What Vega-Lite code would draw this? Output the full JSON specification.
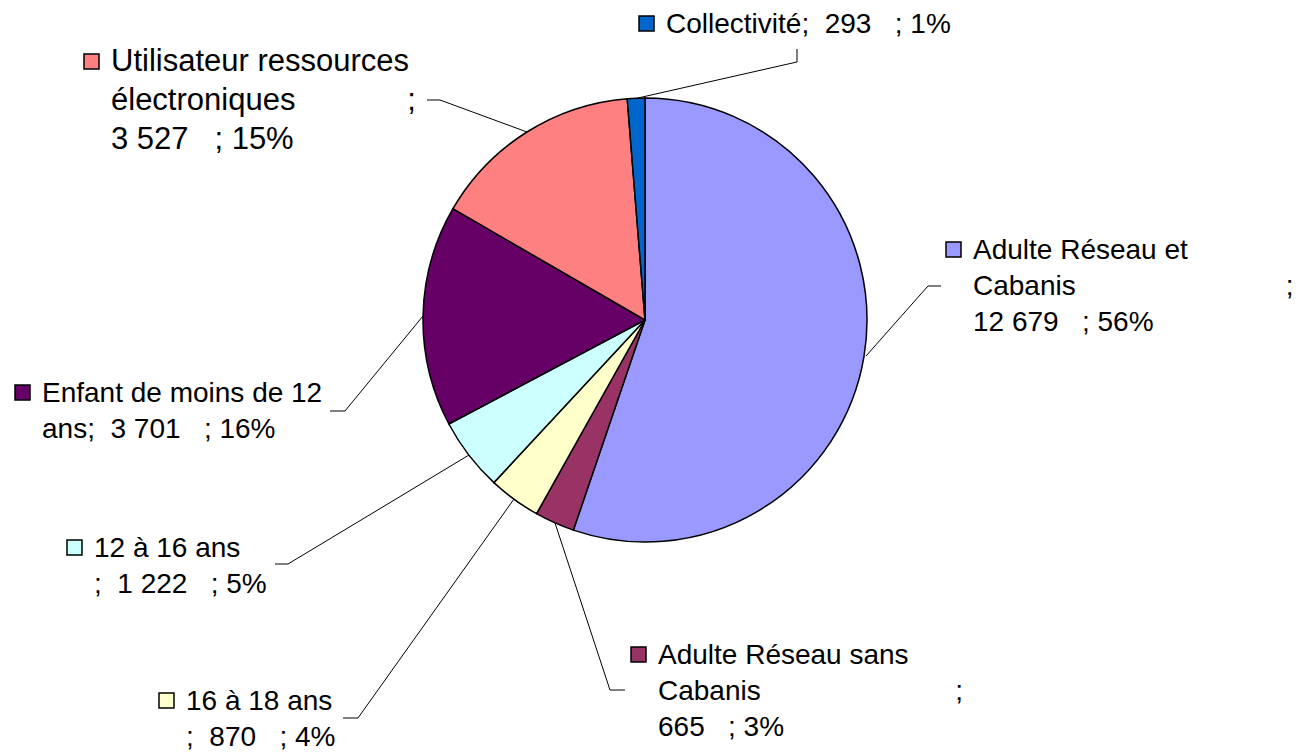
{
  "$schema": "https://vega.github.io/schema/vega-lite/v6.json",
  "width": 1290,
  "height": 640,
  "padding": 0,
  "background": "white",
  "config": {"view": {"stroke": null}},
  "datasets": {
    "slices": [
      {"cat": "Adulte Réseau et Cabanis", "value": 12679, "ord": 1},
      {"cat": "Adulte Réseau sans Cabanis", "value": 665, "ord": 2},
      {"cat": "16 à 18 ans", "value": 870, "ord": 3},
      {"cat": "12 à 16 ans", "value": 1222, "ord": 4},
      {"cat": "Enfant de moins de 12 ans", "value": 3701, "ord": 5},
      {"cat": "Utilisateur ressources électroniques", "value": 3527, "ord": 6},
      {"cat": "Collectivité", "value": 293, "ord": 7}
    ],
    "labels": [
      {"cat": "Collectivité", "u": 0.0946, "v": 1.2928, "label": "Collectivité;\u00a0\u00a0293\u00a0\u00a0\u00a0;\u00a01%"},
      {"cat": "Utilisateur ressources électroniques", "u": -2.4054, "v": 1.1216, "label": "Utilisateur ressources\nélectroniques\u00a0\u00a0\u00a0\u00a0\u00a0\u00a0\u00a0\u00a0\u00a0\u00a0\u00a0\u00a0\u00a0;\n3\u00a0527\u00a0\u00a0\u00a0;\u00a015%"},
      {"cat": "Adulte Réseau et Cabanis", "u": 1.4775, "v": 0.2748, "label": "Adulte Réseau et\nCabanis\u00a0\u00a0\u00a0\u00a0\u00a0\u00a0\u00a0\u00a0\u00a0\u00a0\u00a0\u00a0\u00a0\u00a0\u00a0\u00a0\u00a0\u00a0\u00a0\u00a0\u00a0\u00a0\u00a0\u00a0\u00a0\u00a0\u00a0;\n12\u00a0679\u00a0\u00a0\u00a0;\u00a056%"},
      {"cat": "Enfant de moins de 12 ans", "u": -2.7162, "v": -0.3694, "label": "Enfant de moins de 12\nans;\u00a0\u00a03\u00a0701\u00a0\u00a0\u00a0;\u00a016%"},
      {"cat": "12 à 16 ans", "u": -2.482, "v": -1.0676, "label": "12 à 16 ans\n;\u00a0\u00a01\u00a0222\u00a0\u00a0\u00a0;\u00a05%"},
      {"cat": "16 à 18 ans", "u": -2.0676, "v": -1.7568, "label": "16 à 18 ans\n;\u00a0\u00a0870\u00a0\u00a0\u00a0;\u00a04%"},
      {"cat": "Adulte Réseau sans Cabanis", "u": 0.0586, "v": -1.5495, "label": "Adulte Réseau sans\nCabanis\u00a0\u00a0\u00a0\u00a0\u00a0\u00a0\u00a0\u00a0\u00a0\u00a0\u00a0\u00a0\u00a0\u00a0\u00a0\u00a0\u00a0\u00a0\u00a0\u00a0\u00a0\u00a0\u00a0\u00a0\u00a0;\n665\u00a0\u00a0\u00a0;\u00a03%"}
    ],
    "leaders": [
      {"cat": "Collectivité", "seq": 1, "u": -0.0315, "v": 1.0},
      {"cat": "Collectivité", "seq": 2, "u": 0.6847, "v": 1.1622},
      {"cat": "Collectivité", "seq": 3, "u": 0.6847, "v": 1.2207},
      {"cat": "Utilisateur ressources électroniques", "seq": 1, "u": -0.5315, "v": 0.8468},
      {"cat": "Utilisateur ressources électroniques", "seq": 2, "u": -0.9234, "v": 0.991},
      {"cat": "Utilisateur ressources électroniques", "seq": 3, "u": -0.982, "v": 0.991},
      {"cat": "Adulte Réseau et Cabanis", "seq": 1, "u": 0.9955, "v": -0.1622},
      {"cat": "Adulte Réseau et Cabanis", "seq": 2, "u": 1.2748, "v": 0.1532},
      {"cat": "Adulte Réseau et Cabanis", "seq": 3, "u": 1.3333, "v": 0.1532},
      {"cat": "Enfant de moins de 12 ans", "seq": 1, "u": -1.0, "v": 0.018},
      {"cat": "Enfant de moins de 12 ans", "seq": 2, "u": -1.3514, "v": -0.4099},
      {"cat": "Enfant de moins de 12 ans", "seq": 3, "u": -1.4189, "v": -0.4099},
      {"cat": "12 à 16 ans", "seq": 1, "u": -0.7928, "v": -0.6081},
      {"cat": "12 à 16 ans", "seq": 2, "u": -1.6081, "v": -1.0991},
      {"cat": "12 à 16 ans", "seq": 3, "u": -1.6667, "v": -1.0991},
      {"cat": "16 à 18 ans", "seq": 1, "u": -0.5901, "v": -0.8063},
      {"cat": "16 à 18 ans", "seq": 2, "u": -1.2928, "v": -1.7928},
      {"cat": "16 à 18 ans", "seq": 3, "u": -1.3604, "v": -1.7928},
      {"cat": "Adulte Réseau sans Cabanis", "seq": 1, "u": -0.4054, "v": -0.9144},
      {"cat": "Adulte Réseau sans Cabanis", "seq": 2, "u": -0.1577, "v": -1.6667},
      {"cat": "Adulte Réseau sans Cabanis", "seq": 3, "u": -0.0901, "v": -1.6667}
    ]
  },
  "resolve": {"scale": {"color": "shared"}},
  "layer": [
    {
      "data": {"name": "slices"},
      "mark": {"type": "arc", "radius": 222, "stroke": "#000000", "strokeWidth": 1.5},
      "encoding": {
        "theta": {"field": "value", "type": "quantitative", "stack": true},
        "order": {"field": "ord", "type": "quantitative"},
        "color": {
          "field": "cat",
          "type": "nominal",
          "legend": null,
          "scale": {
            "domain": ["Adulte Réseau et Cabanis", "Adulte Réseau sans Cabanis", "16 à 18 ans", "12 à 16 ans", "Enfant de moins de 12 ans", "Utilisateur ressources électroniques", "Collectivité"],
            "range": ["#9999FF", "#993366", "#FFFFCC", "#CCFFFF", "#660066", "#FF8080", "#0066CC"]
          }
        }
      }
    },
    {
      "data": {"name": "leaders"},
      "mark": {"type": "line", "color": "#000000", "strokeWidth": 1},
      "encoding": {
        "x": {"field": "u", "type": "quantitative", "axis": null, "scale": {"domain": [-2.9054, 2.9054], "nice": false, "zero": false}},
        "y": {"field": "v", "type": "quantitative", "axis": null, "scale": {"domain": [-1.4414, 1.4414], "nice": false, "zero": false}},
        "detail": {"field": "cat", "type": "nominal"},
        "order": {"field": "seq", "type": "quantitative"}
      }
    },
    {
      "data": {"name": "labels"},
      "mark": {"type": "point", "shape": "square", "filled": true, "size": 225, "stroke": "#000000", "strokeWidth": 1.5, "opacity": 1, "xOffset": -19.5, "yOffset": -9.5},
      "encoding": {
        "x": {"field": "u", "type": "quantitative", "axis": null, "scale": {"domain": [-2.9054, 2.9054], "nice": false, "zero": false}},
        "y": {"field": "v", "type": "quantitative", "axis": null, "scale": {"domain": [-1.4414, 1.4414], "nice": false, "zero": false}},
        "color": {"field": "cat", "type": "nominal", "legend": null}
      }
    },
    {
      "data": {"name": "labels"},
      "mark": {"type": "text", "align": "left", "baseline": "alphabetic", "font": "Liberation Sans", "fontSize": 28, "lineHeight": {"expr": "datum.cat === 'Utilisateur ressources électroniques' ? 39 : 36"}, "lineBreak": "\n", "color": "#000000"},
      "encoding": {
        "x": {"field": "u", "type": "quantitative", "axis": null, "scale": {"domain": [-2.9054, 2.9054], "nice": false, "zero": false}},
        "y": {"field": "v", "type": "quantitative", "axis": null, "scale": {"domain": [-1.4414, 1.4414], "nice": false, "zero": false}},
        "text": {"field": "label", "type": "nominal"},
        "size": {"condition": {"test": "datum.cat === 'Utilisateur ressources électroniques'", "value": 31}, "value": 28}
      }
    }
  ]
}
